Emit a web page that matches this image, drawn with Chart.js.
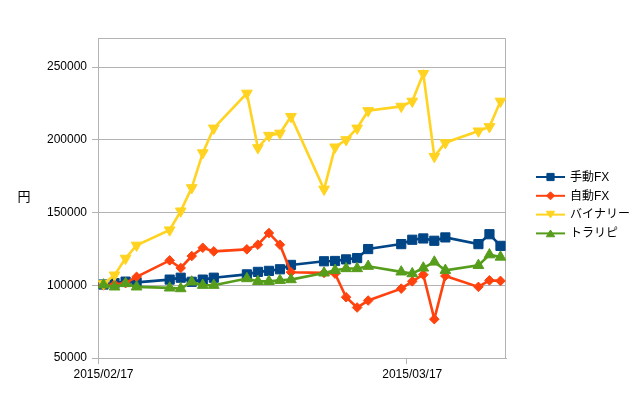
<!DOCTYPE html>
<html><head><meta charset="utf-8">
<script src="https://cdn.jsdelivr.net/npm/chart.js@4.4.1/dist/chart.umd.min.js"></script>
<style>html,body{margin:0;padding:0;background:#fff}canvas{display:block}</style>
</head><body>
<canvas id="c" width="639" height="408" style="width:639px;height:408px"></canvas>
<script>
// ---- data ----
const dates = ['2015-02-17','2015-02-18','2015-02-19','2015-02-20','2015-02-23','2015-02-24','2015-02-25','2015-02-26','2015-02-27',
  '2015-03-02','2015-03-03','2015-03-04','2015-03-05','2015-03-06','2015-03-09','2015-03-10','2015-03-11','2015-03-12','2015-03-13',
  '2015-03-16','2015-03-17','2015-03-18','2015-03-19','2015-03-20','2015-03-23','2015-03-24','2015-03-25'];
const manualFX = [100500,101500,102500,102000,103900,105200,102400,103900,105200,107500,109200,109900,111000,114000,116500,116700,117800,118700,124900,128300,131300,132200,130600,132900,128300,135100,127100];
const autoFX   = [100000,100500,101500,105800,117100,111900,120100,125800,123300,124700,127900,135900,127900,109000,108500,108000,91800,84700,89500,97700,102700,107300,76700,106400,98900,103400,103000];
const binary   = [101000,107000,118500,127500,138000,151000,167000,191000,208000,232000,194500,203000,204500,216000,166000,195000,200000,208000,220000,223000,226500,245500,188500,198000,206000,209000,226500];
const trap     = [100300,98900,101200,98900,98200,97700,102300,100000,100000,104600,102700,102700,103400,103900,108500,110300,111500,111500,113100,109200,108000,111900,116000,110300,113700,121000,119400];
const seriesNames = ['手動FX','自動FX','バイナリー','トラリピ'];
const axisStart = '2015-02-17';
const axisEnd = '2015-03-26';
const xTickDates = ['2015-02-17','2015-03-17'];
const xTickLabels = ['2015/02/17','2015/03/17'];
const yTicks = [50000,100000,150000,200000,250000];
const yMin = 50000, yMax = 270000;
const yTitle = '円';

// ---- helpers ----
const DAY = 86400000;
function utc(s){ const [y,m,d] = s.split('-').map(Number); return Date.UTC(y, m-1, d); }
function dayOf(s){ return (utc(s) - utc(axisStart)) / DAY; }
const toPts = vals => vals.map((v,i)=>({x: dayOf(dates[i]) + 0.5, y: v}));

const colors = ['#004586','#ff420e','#ffd320','#579d1c'];
const styles = [
  {pointStyle:'rect', radius:6.5, rotation:0},
  {pointStyle:'rectRot', radius:4.8, rotation:0},
  {pointStyle:'triangle', radius:6.2, rotation:180},
  {pointStyle:'triangle', radius:6.2, rotation:0}
];
const seriesVals = [manualFX, autoFX, binary, trap];
const FONT = '"Liberation Sans", Arial, "Noto Sans CJK JP", sans-serif';

const datasets = seriesVals.map((vals,i)=>({
  label: seriesNames[i],
  data: toPts(vals),
  borderColor: colors[i],
  backgroundColor: colors[i],
  borderWidth: 2.6,
  tension: 0,
  pointStyle: styles[i].pointStyle,
  pointRadius: styles[i].radius,
  pointRotation: styles[i].rotation,
  pointBorderWidth: 1,
  pointBorderColor: colors[i],
  pointBackgroundColor: colors[i],
  order: 4 - i
}));

function drawMarker(ctx, style, x, y, r, color){
  ctx.save();
  ctx.fillStyle = color; ctx.strokeStyle = color; ctx.lineWidth = 1;
  ctx.beginPath();
  if (style === 'rect') { const s = r; ctx.rect(x - s, y - s, 2*s, 2*s); }
  else if (style === 'rectRot') { ctx.moveTo(x - r, y); ctx.lineTo(x, y - r); ctx.lineTo(x + r, y); ctx.lineTo(x, y + r); ctx.closePath(); }
  else if (style === 'tdown') { ctx.moveTo(x - r, y - r*0.8); ctx.lineTo(x + r, y - r*0.8); ctx.lineTo(x, y + r*0.8); ctx.closePath(); }
  else { ctx.moveTo(x - r, y + r*0.8); ctx.lineTo(x + r, y + r*0.8); ctx.lineTo(x, y - r*0.8); ctx.closePath(); }
  ctx.fill(); ctx.stroke();
  ctx.restore();
}

const decor = {
  id: 'decor',
  beforeDatasetsDraw(chart){
    const {ctx, chartArea:a} = chart;
    ctx.save();
    ctx.strokeStyle = '#b3b3b3'; ctx.lineWidth = 1;
    ctx.beginPath();
    ctx.moveTo(Math.round(a.left)+0.5, Math.round(a.top)+0.5);
    ctx.lineTo(Math.round(a.right)-0.5, Math.round(a.top)+0.5);
    ctx.lineTo(Math.round(a.right)-0.5, Math.round(a.bottom)+0.5);
    ctx.stroke();
    ctx.restore();
  },
  afterDraw(chart){
    const {ctx, chartArea:a} = chart;
    ctx.save();
    ctx.fillStyle = '#000';
    ctx.font = '13px ' + FONT;
    ctx.textAlign = 'center'; ctx.textBaseline = 'middle';
    ctx.fillText(yTitle, 24, (a.top + a.bottom)/2 - 0.5);
    // legend
    const lx0 = a.right + 30, lx1 = a.right + 59, mx = (lx0 + lx1)/2, tx = a.right + 64;
    const ly0 = 177, lstep = 18.8;
    const legStyles = ['rect','rectRot','tdown','tup'];
    const legR = [3.6, 4, 4.2, 4.2];
    ctx.font = '12px ' + FONT;
    ctx.textAlign = 'left';
    seriesNames.forEach((name,i)=>{
      const y = ly0 + i*lstep;
      ctx.strokeStyle = colors[i]; ctx.lineWidth = 2;
      ctx.beginPath(); ctx.moveTo(lx0, y); ctx.lineTo(lx1, y); ctx.stroke();
      drawMarker(ctx, legStyles[i], mx, y, legR[i], colors[i]);
      ctx.fillStyle = '#000';
      ctx.fillText(name, tx, y + 0.5);
    });
    ctx.restore();
  }
};

new Chart(document.getElementById('c'), {
  type: 'line',
  data: { datasets },
  options: {
    responsive: false, animation: false, devicePixelRatio: 1,
    layout: { padding: { left: 0, top: 38, right: 133, bottom: 0 } },
    plugins: { legend: { display: false }, tooltip: { enabled: false } },
    scales: {
      x: {
        type: 'linear', min: 0, max: dayOf(axisEnd),
        afterBuildTicks: s => { s.ticks = xTickDates.map(d => ({value: dayOf(d)})); },
        afterFit: s => { s.height = 50; },
        ticks: { callback: (v, i) => xTickLabels[i], labelOffset: 5.5, padding: 3, maxRotation: 0, autoSkip: false,
                 color: '#000', font: { family: FONT, size: 12 } },
        grid: { drawOnChartArea: false, color: '#b3b3b3', tickLength: 6 },
        border: { color: '#b3b3b3' }
      },
      y: {
        min: yMin, max: yMax,
        afterBuildTicks: s => { s.ticks = yTicks.map(v => ({value: v})); },
        afterFit: s => { s.width = 98; },
        ticks: { callback: v => String(v), padding: 5, color: '#000', font: { family: FONT, size: 12 } },
        grid: { color: '#b3b3b3', tickLength: 6 },
        border: { color: '#b3b3b3' }
      }
    }
  },
  plugins: [decor]
});
</script>
</body></html>
